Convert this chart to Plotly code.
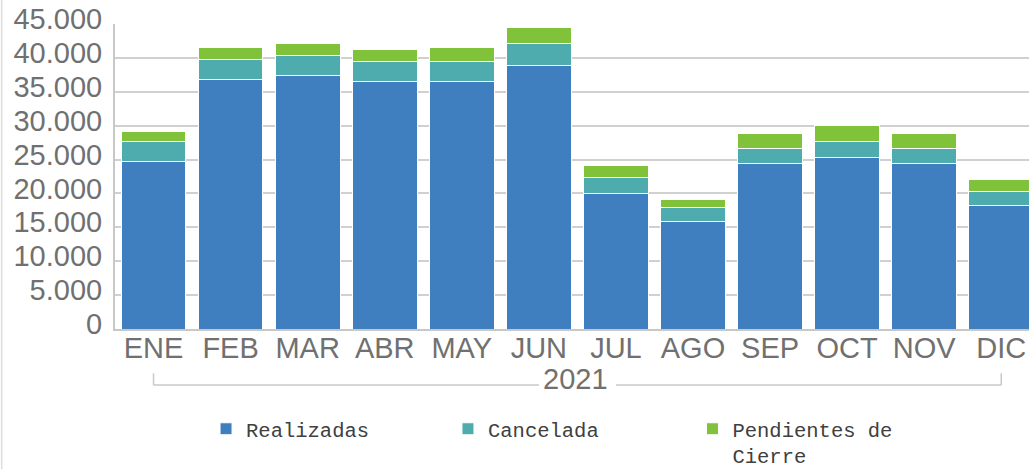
import plotly.graph_objects as go

# data
meses = ["ENE", "FEB", "MAR", "ABR", "MAY", "JUN", "JUL", "AGO", "SEP", "OCT", "NOV", "DIC"]
realizadas = [24700, 36800, 37400, 36500, 36500, 38900, 20000, 15900, 24400, 25300, 24400, 18200]
cancelada = [3000, 3000, 2900, 3000, 3000, 3200, 2300, 2100, 2300, 2300, 2300, 2100]
pendientes = [1500, 1700, 1800, 1700, 2000, 2400, 1800, 1100, 2100, 2400, 2100, 1800]
y_ticks = [0, 5000, 10000, 15000, 20000, 25000, 30000, 35000, 40000, 45000]
anio = "2021"

# name, values, colour, legend id, legend x (paper)
series = [
    ("Realizadas", realizadas, "#3f7fbf", "legend", 0.0996),
    ("Cancelada", cancelada, "#4eabae", "legend2", 0.3643),
    ("Pendientes de<br>Cierre", pendientes, "#80c33a", "legend3", 0.6318),
]

fig = go.Figure()
for name, vals, color, leg, _ in series:
    fig.add_trace(
        go.Bar(
            x=meses,
            y=vals,
            name=name,
            legend=leg,
            marker=dict(color=color, line=dict(color="white", width=1)),
        )
    )

tick_font = dict(family="Liberation Sans, Arial", size=29, color="#707070")
legend_font = dict(family="Courier New, Liberation Mono, monospace", size=20.5, color="#404040")

# one legend box per series so each entry sits where the reference has it
legends = {}
for _, _, _, leg, lx in series:
    legends[leg] = dict(
        x=lx,
        xanchor="left",
        y=-0.262,
        yanchor="top",
        font=legend_font,
        valign="top",
        bgcolor="rgba(0,0,0,0)",
        itemclick=False,
    )

fig.update_layout(
    width=1029,
    height=470,
    barmode="stack",
    bargap=0.16,
    separators=",.",
    plot_bgcolor="white",
    paper_bgcolor="white",
    margin=dict(l=115, r=0, t=24, b=141, autoexpand=False),
    showlegend=True,
    **legends,
    xaxis=dict(
        range=[-0.5, 11.36],
        tickfont=tick_font,
        showline=True,
        linecolor="#c8c8c8",
        linewidth=2,
        showgrid=False,
        ticks="",
        tickangle=0,
        ticklabelstandoff=-8,
    ),
    yaxis=dict(
        range=[0, 45000],
        tickvals=y_ticks,
        tickformat=",d",
        tickfont=tick_font,
        showgrid=True,
        gridcolor="#d0d0d0",
        gridwidth=1.5,
        showline=True,
        linecolor="#c8c8c8",
        linewidth=2,
        zeroline=False,
        ticks="",
        ticklabelstandoff=5,
        ticklabelshift=-5,
    ),
)

# category group bracket under the month labels
bracket = dict(type="line", xref="x", yref="paper", line=dict(color="#c8c8c8", width=1.5))
fig.add_shape(**bracket, x0=0, x1=5.0, y0=-0.184, y1=-0.184)
fig.add_shape(**bracket, x0=6.0, x1=11, y0=-0.184, y1=-0.184)
fig.add_shape(**bracket, x0=0, x1=0, y0=-0.184, y1=-0.145)
fig.add_shape(**bracket, x0=11, x1=11, y0=-0.184, y1=-0.145)
fig.add_annotation(
    x=5.47, y=-0.165, xref="x", yref="paper", text=anio, showarrow=False,
    font=tick_font, yanchor="middle",
)

# faint frame line at the left edge of the picture
fig.add_shape(type="line", xref="paper", yref="paper", x0=-0.124, x1=-0.124,
              y0=-0.46, y1=1.08, line=dict(color="#dddddd", width=1.5))

# drop the browser's default body margin so the figure starts at the page corner
fig.write_html(
    "out.html",
    config={"displayModeBar": False},
    post_script="document.body.style.margin = '0';",
)
